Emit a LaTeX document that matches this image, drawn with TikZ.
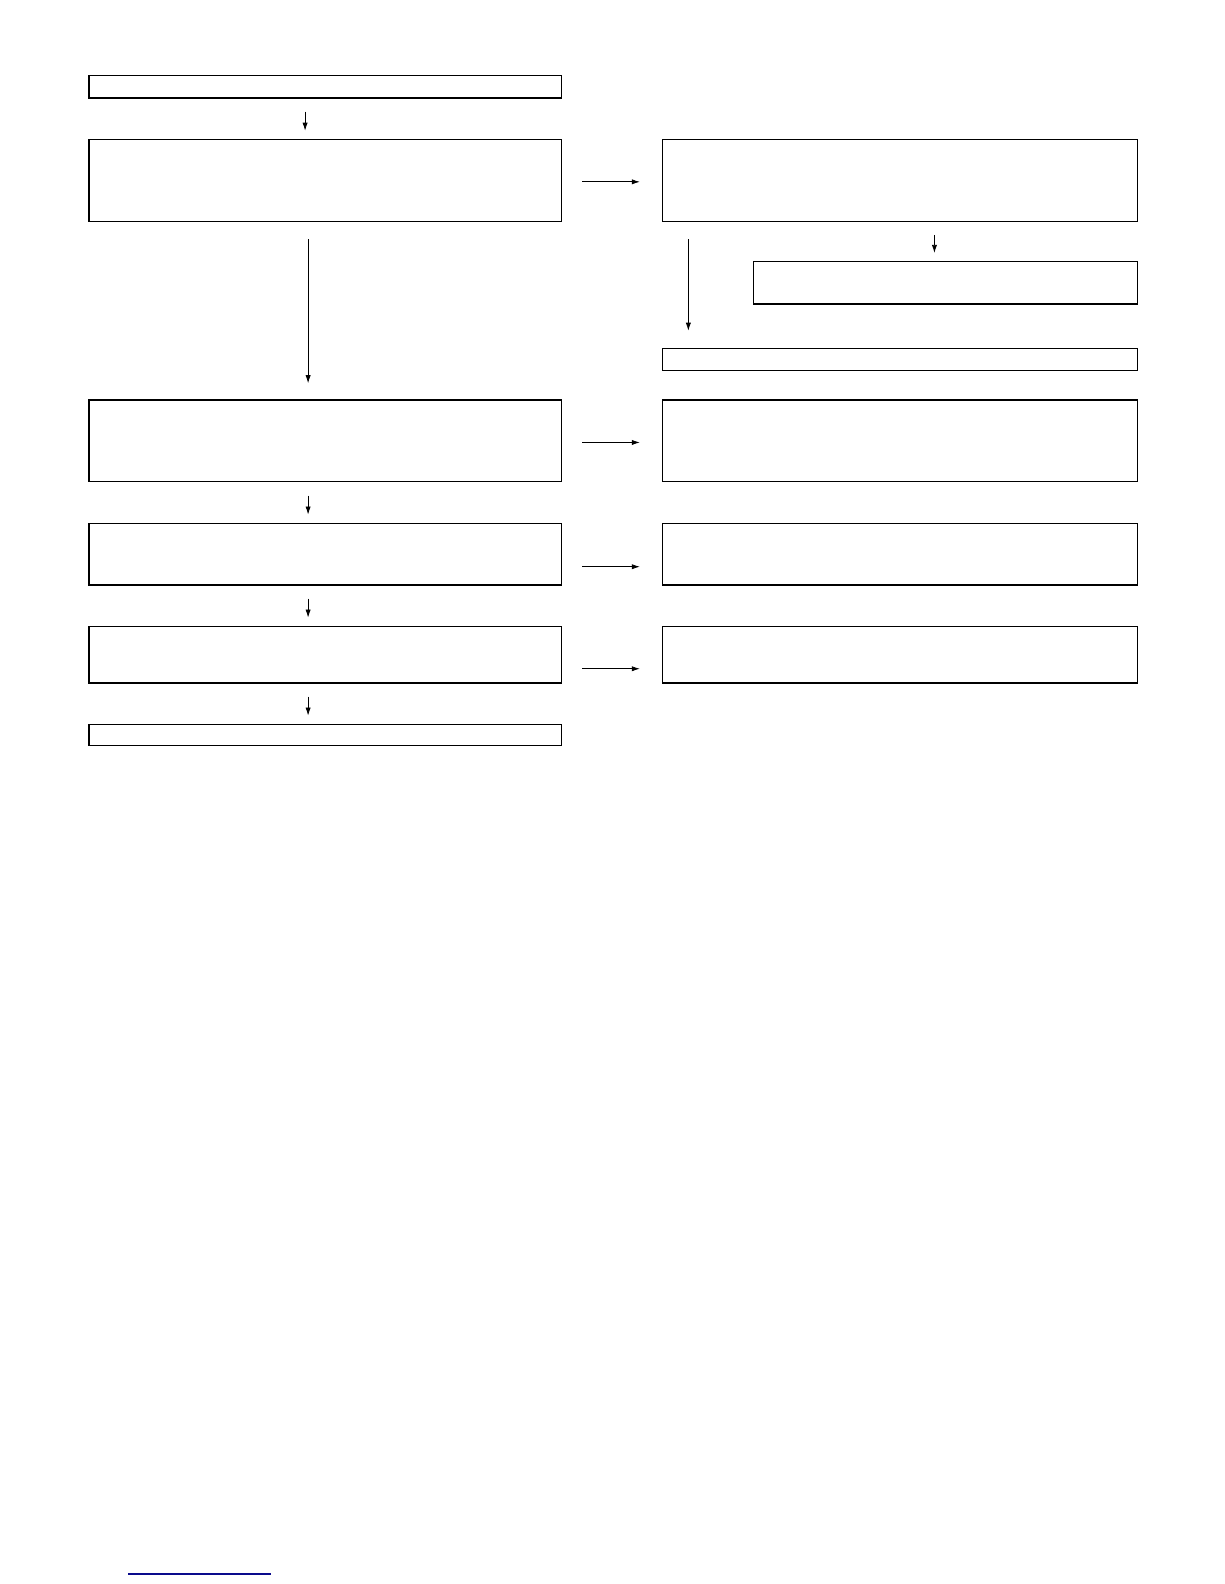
\documentclass[tikz,border=0pt]{standalone}
\usetikzlibrary{arrows.meta}

\tikzset{box/.style={draw, line width=0.6pt, inner sep=0pt, minimum width=234pt, minimum height=11pt}}
\tikzset{flow/.style={line width=0.4pt, -{Latex[length=4pt,width=2.6pt]}}}

\begin{document}
\begin{tikzpicture}[x=0.5pt, y=-0.5pt]
	\useasboundingbox (0,0) rectangle (1212,1568);

	\node[box] (start) at (322,86) {};
	\node[box, minimum height=40.5pt] (left1) at (322,178.5) {};
	\node[box, minimum width=235pt, minimum height=40.5pt] (right1) at (891,178.5) {};
	\node[box, minimum width=190pt, minimum height=21pt] (right2) at (936,280) {};
	\node[box, minimum width=235pt] (right3) at (891,356) {};

	\node[box, minimum height=40.5pt] (left2) at (322,436.5) {};
	\node[box, minimum width=235pt, minimum height=40.5pt] (right4) at (891,436.5) {};
	\node[box, minimum height=30.5pt] (left3) at (322,548.5) {};
	\node[box, minimum width=235pt, minimum height=30.5pt] (right5) at (891,548.5) {};
	\node[box, minimum height=28pt] (left4) at (322,648) {};
	\node[box, minimum width=235pt, minimum height=28pt] (right6) at (891,648) {};
	\node[box, minimum height=10.5pt] (finish) at (322,727.5) {};

	\coordinate (rule-a) at (127,1558);
	\coordinate (rule-b) at (268,1558);

	\draw[flow, shorten <=6.5pt, shorten >=4pt] ([xshift=-10pt]start.south) -- ([xshift=-10pt]left1.north);
	\draw[flow, shorten <=10pt, shorten >=11pt] ([yshift=-0.75pt]left1.east) -- ([yshift=-0.75pt]right1.west);
	\draw[flow, shorten <=8.5pt, shorten >=8pt] ([xshift=-8.5pt]left1.south) -- ([xshift=-8.5pt]left2.north);
	\draw[flow, shorten <=8.5pt, shorten >=8.5pt] ([xshift=13pt]right1.south west) -- ([xshift=13pt]right3.north west);
	\draw[flow, shorten <=6.5pt, shorten >=4pt] ([xshift=-5.5pt]right1.south -| right2.north) -- ([xshift=-5.5pt]right2.north);

	\draw[flow, shorten <=10pt, shorten >=11pt] ([yshift=-0.75pt]left2.east) -- ([yshift=-0.75pt]right4.west);
	\draw[flow, shorten <=6.5pt, shorten >=4pt] ([xshift=-8.5pt]left2.south) -- ([xshift=-8.5pt]left3.north);
	\draw[flow, shorten <=10pt, shorten >=11pt] ([yshift=-6.25pt]left3.east) -- ([yshift=-6.25pt]right5.west);
	\draw[flow, shorten <=6.5pt, shorten >=4pt] ([xshift=-8.5pt]left3.south) -- ([xshift=-8.5pt]left4.north);
	\draw[flow, shorten <=10pt, shorten >=11pt] ([yshift=-7pt]left4.east) -- ([yshift=-7pt]right6.west);
	\draw[flow, shorten <=6.5pt, shorten >=4pt] ([xshift=-8.5pt]left4.south) -- ([xshift=-8.5pt]finish.north);

	\draw[line width=0.6pt, color={rgb,255:red,10;green,10;blue,140}] (rule-a) -- (rule-b);
\end{tikzpicture}
\end{document}
